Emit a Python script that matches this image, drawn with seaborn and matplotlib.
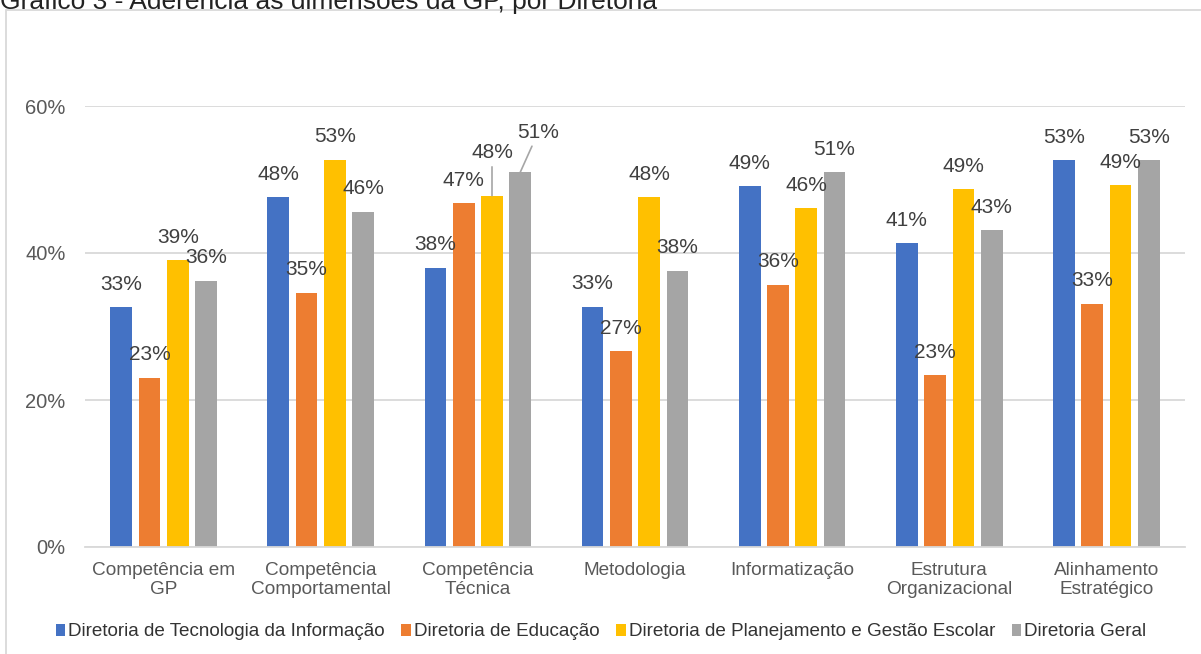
import matplotlib
matplotlib.use("Agg")
import matplotlib.pyplot as plt
import seaborn as sns
import pandas as pd
from matplotlib.patches import Rectangle

categories = ["Competência em\nGP", "Competência\nComportamental", "Competência\nTécnica",
              "Metodologia", "Informatização", "Estrutura\nOrganizacional", "Alinhamento\nEstratégico"]
series = ["Diretoria de Tecnologia da Informação", "Diretoria de Educação",
          "Diretoria de Planejamento e Gestão Escolar", "Diretoria Geral"]
ti = [0.326, 0.476, 0.380, 0.327, 0.491, 0.413, 0.526]
edu = [0.230, 0.346, 0.468, 0.266, 0.357, 0.234, 0.331]
plan = [0.390, 0.527, 0.478, 0.476, 0.461, 0.487, 0.492]
geral = [0.362, 0.456, 0.510, 0.376, 0.510, 0.431, 0.526]
colors = ["#4472C4", "#ED7D31", "#FFC000", "#A5A5A5"]
title = "Gráfico 3 - Aderência às dimensões da GP, por Diretoria"

rows = []
for s, vals in zip(series, [ti, edu, plan, geral]):
    for c, v in zip(categories, vals):
        rows.append({"cat": c, "serie": s, "val": v})
df = pd.DataFrame(rows)

sns.set_theme(style="white")
plt.rcParams["font.family"] = ["Liberation Sans", "DejaVu Sans"]

W, H = 1201, 654
fig = plt.figure(figsize=(W / 100, H / 100), dpi=100)
ax = fig.add_axes([85 / W, 1 - 547 / H, 1100 / W, 441 / H])

sns.barplot(data=df, x="cat", y="val", hue="serie", order=categories, hue_order=series,
            palette=colors, width=0.72, gap=0.23, ax=ax, saturation=1, linewidth=0,
            legend=True)

ax.set_ylim(0, 0.6)
ax.set_xlim(-0.5, len(categories) - 0.5)
ax.set_yticks([0, 0.2, 0.4, 0.6])
ax.set_yticklabels(["0%", "20%", "40%", "60%"])
ax.yaxis.grid(True, color="#D9D9D9", linewidth=1.3)
ax.set_axisbelow(True)
for sp in ["top", "right", "left"]:
    ax.spines[sp].set_visible(False)
ax.spines["bottom"].set_color("#D9D9D9")
ax.spines["bottom"].set_linewidth(1.3)
ax.tick_params(axis="y", length=0, pad=14, labelsize=14.5, labelcolor="#595959")
ax.tick_params(axis="x", length=0, pad=11, labelsize=13.7, labelcolor="#595959")
for t in ax.get_xticklabels():
    t.set_linespacing(1.1)
ax.set_xlabel("")
ax.set_ylabel("")

# data labels
bars = [p for p in ax.patches if isinstance(p, Rectangle) and p.get_height() > 0]
for p in bars:
    v = p.get_height()
    xc = p.get_x() + p.get_width() / 2
    lab = f"{v * 100:.0f}%"
    kw = dict(ha="center", va="center", fontsize=15, color="#404040",
              textcoords="offset pixels", annotation_clip=False)
    if abs(v - 0.478) < 1e-6 and abs(xc - 2.09) < 0.05:
        ax.annotate(lab, (xc, v), xytext=(0, 43),
                    arrowprops=dict(arrowstyle="-", color="#A6A6A6", lw=1.2,
                                    shrinkA=1, shrinkB=0), **kw)
    elif abs(v - 0.510) < 1e-6 and abs(xc - 2.27) < 0.05:
        ax.annotate(lab, (xc, v), xytext=(18, 40),
                    arrowprops=dict(arrowstyle="-", color="#A6A6A6", lw=1.2,
                                    shrinkA=1, shrinkB=0), **kw)
    else:
        ax.annotate(lab, (xc, v), xytext=(0, 23), **kw)

handles, labels = ax.get_legend_handles_labels()
ax.get_legend().remove()
fig.legend(handles, labels, loc="center", bbox_to_anchor=(601 / W, 1 - 632 / H),
           ncol=4, frameon=False, fontsize=13.6, handlelength=0.5, handleheight=0.55,
           handletextpad=0.15, columnspacing=0.9, labelcolor="#333333")

fig.patches.append(Rectangle((6 / W, -0.05), 1.2, 1 - 10 / H + 0.05, transform=fig.transFigure,
                             fill=False, edgecolor="#D9D9D9", linewidth=1.3, zorder=0))
fig.text(0, 1 - 9 / H, title, ha="left", va="baseline", fontsize=19, color="#222222")

fig.savefig("out.png", dpi=100)
